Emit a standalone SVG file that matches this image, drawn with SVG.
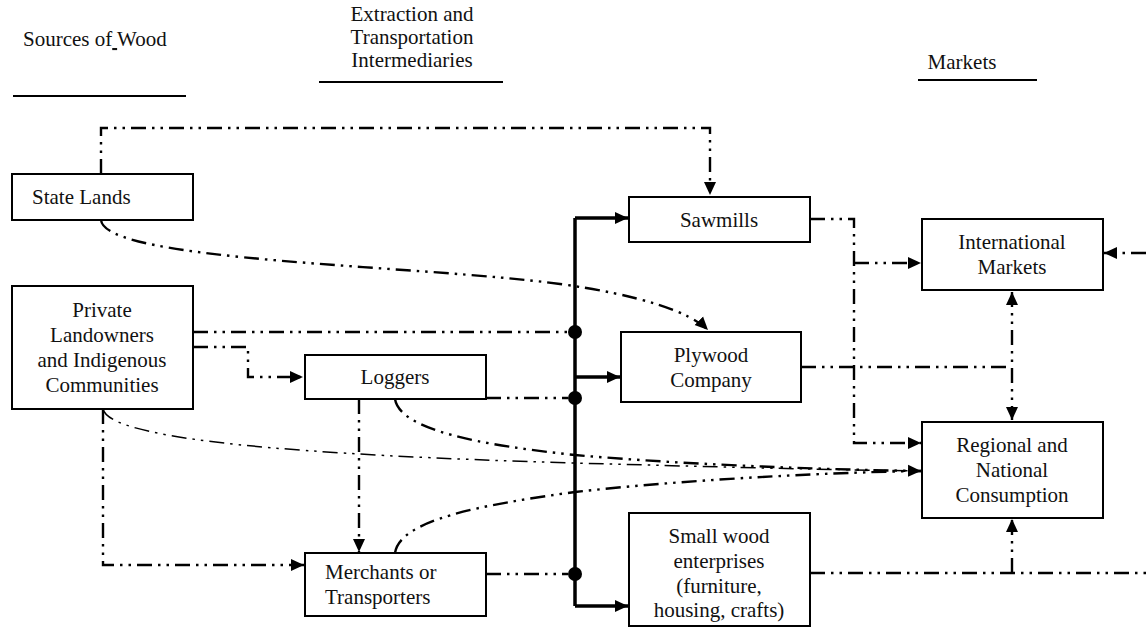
<svg xmlns="http://www.w3.org/2000/svg" width="1146" height="634" viewBox="0 0 1146 634">
<style>
text{font-family:"Times New Roman",Times,"Liberation Serif","Noto Serif","DejaVu Serif",Georgia,serif;font-size:21px;fill:#111}
.c{text-anchor:middle}
.box{fill:#fff;stroke:#000;stroke-width:2}
.dd{fill:none;stroke:#000;stroke-width:2.4;stroke-dasharray:15 6 2.5 6 2.5 6}
.thin{fill:none;stroke:#000;stroke-width:1.5;stroke-dasharray:15 6 2.5 6 2.5 6}
.bus{fill:none;stroke:#000;stroke-width:3.5}
.ul{stroke:#000;stroke-width:2.2}
</style>
<defs>
<marker id="ah" markerUnits="userSpaceOnUse" markerWidth="14" markerHeight="14" viewBox="0 0 14 14" refX="13" refY="7" orient="auto-start-reverse">
<path d="M0,1 L13,7 L0,13 Z" fill="#000"/>
</marker>
</defs>
<g id="headers">
<text x="23" y="46">Sources of<tspan text-decoration="underline"> </tspan>Wood</text>
<line class="ul" x1="13" y1="96" x2="186" y2="96"/>
<text class="c" x="412" y="21">Extraction and</text>
<text class="c" x="412" y="44">Transportation</text>
<text class="c" x="412" y="67">Intermediaries</text>
<line class="ul" x1="319" y1="82" x2="503" y2="82"/>
<text class="c" x="962" y="69">Markets</text>
<line class="ul" x1="918" y1="80" x2="1037" y2="80"/>
</g>
<g id="connectors">
<path class="dd" d="M101,174 V128 H710 V195" marker-end="url(#ah)"/>
<path class="dd" d="M101,220 C105,262 420,265 560,284 C640,295 690,312 708,330" marker-end="url(#ah)"/>
<path class="dd" d="M193,332 H568"/>
<path class="dd" d="M193,347 H248 V377 H303" marker-end="url(#ah)"/>
<path class="dd" d="M486,398 H568"/>
<path class="dd" d="M486,574 H568"/>
<path class="bus" d="M575,218 V606"/>
<path class="bus" d="M575,218 H628" marker-end="url(#ah)"/>
<path class="bus" d="M575,377 H620" marker-end="url(#ah)"/>
<path class="bus" d="M575,606 H628" marker-end="url(#ah)"/>
<circle cx="575" cy="332" r="7" fill="#000"/>
<circle cx="575" cy="398" r="7" fill="#000"/>
<circle cx="575" cy="574" r="7" fill="#000"/>
<path class="dd" d="M810,219 H854 V443 H921" marker-end="url(#ah)"/>
<path class="dd" d="M854,263 H921" marker-end="url(#ah)"/>
<path class="dd" d="M801,367 H1012"/>
<path class="dd" d="M1012,292 V420" marker-start="url(#ah)" marker-end="url(#ah)"/>
<path class="dd" d="M1146,253 H1104" marker-end="url(#ah)"/>
<path class="dd" d="M810,573 H1146"/>
<path class="dd" d="M1012,573 V519" marker-end="url(#ah)"/>
<path class="dd" d="M103,409 V565 H304" marker-end="url(#ah)"/>
<path class="dd" d="M359,399 V552" marker-end="url(#ah)"/>
<path class="thin" d="M103,409 C110,440 300,455 575,463 C750,468 850,470 921,471" marker-end="url(#ah)"/>
<path class="dd" d="M395,399 C400,430 480,445 575,455 C700,466 850,470 921,471"/>
<path class="dd" d="M395,553 C400,520 480,505 575,492 C700,478 850,472 921,471"/>
</g>
<g id="state-lands">
<rect class="box" x="12" y="174" width="181" height="46"/>
<text x="32" y="204">State Lands</text>
</g>
<g id="private-landowners">
<rect class="box" x="12" y="286" width="181" height="123"/>
<text class="c" x="102" y="317">Private</text>
<text class="c" x="102" y="342">Landowners</text>
<text class="c" x="102" y="367">and Indigenous</text>
<text class="c" x="102" y="392">Communities</text>
</g>
<g id="loggers">
<rect class="box" x="305" y="355" width="181" height="44"/>
<text class="c" x="395" y="384">Loggers</text>
</g>
<g id="merchants">
<rect class="box" x="305" y="553" width="181" height="63"/>
<text x="325" y="579">Merchants or</text>
<text x="325" y="604">Transporters</text>
</g>
<g id="sawmills">
<rect class="box" x="629" y="197" width="181" height="45"/>
<text class="c" x="719" y="227">Sawmills</text>
</g>
<g id="plywood">
<rect class="box" x="621" y="332" width="180" height="70"/>
<text class="c" x="711" y="362">Plywood</text>
<text class="c" x="711" y="387">Company</text>
</g>
<g id="small-wood">
<rect class="box" x="629" y="513" width="181" height="113"/>
<text class="c" x="719" y="543">Small wood</text>
<text class="c" x="719" y="568">enterprises</text>
<text class="c" x="719" y="593">(furniture,</text>
<text class="c" x="719" y="617">housing, crafts)</text>
</g>
<g id="international">
<rect class="box" x="922" y="219" width="181" height="71"/>
<text class="c" x="1012" y="249">International</text>
<text class="c" x="1012" y="274">Markets</text>
</g>
<g id="regional">
<rect class="box" x="922" y="422" width="181" height="96"/>
<text class="c" x="1012" y="452">Regional and</text>
<text class="c" x="1012" y="477">National</text>
<text class="c" x="1012" y="502">Consumption</text>
</g>
</svg>
